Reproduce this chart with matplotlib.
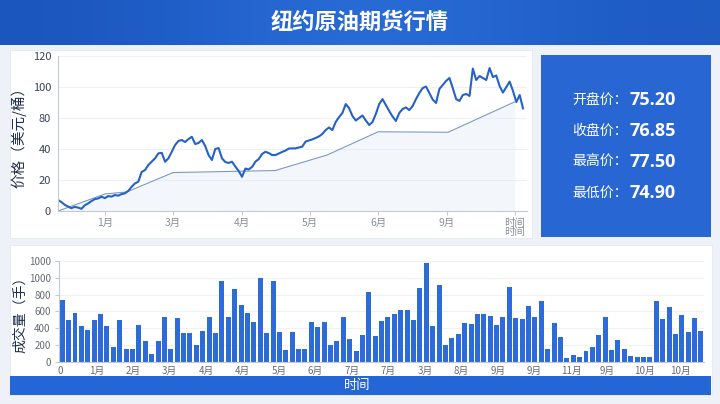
import numpy as np
import matplotlib
matplotlib.use('Agg')
import matplotlib.pyplot as plt
from matplotlib.patches import Rectangle
from matplotlib.colors import LinearSegmentedColormap

plt.rcParams['font.family'] = ['Noto Sans CJK SC', 'DejaVu Sans']

# price series (daily)
price = [7.1, 5.8, 4.0, 2.9, 1.8, 2.7, 2.2, 1.4, 3.7, 4.9,
         6.4, 7.7, 8.1, 9.2, 8.3, 9.6, 9.3, 10.3, 9.9, 10.9,
         11.4, 13.0, 15.6, 17.8, 18.9, 25.2, 26.4, 29.7, 31.8, 34.0,
         37.2, 37.5, 31.8, 34.0, 38.2, 42.6, 45.2, 45.8, 44.5, 46.4,
         47.9, 43.2, 43.9, 45.8, 41.9, 36.1, 32.9, 40.0, 40.6, 34.0,
         31.6, 31.0, 31.8, 28.7, 25.8, 22.1, 27.4, 26.8, 28.4, 31.8,
         33.5, 36.8, 38.2, 37.4, 36.1, 36.1, 37.1, 38.1, 39.0, 40.3,
         40.4, 40.4, 41.0, 41.5, 44.8, 45.5, 46.2, 47.1, 48.1, 49.7,
         52.2, 53.9, 52.2, 57.4, 60.6, 63.2, 69.0, 66.4, 61.3, 58.4,
         60.0, 61.6, 58.4, 55.5, 57.4, 62.6, 69.0, 72.2, 68.4, 64.5,
         61.0, 58.1, 63.2, 65.8, 66.8, 65.1, 67.7, 72.2, 76.1, 79.3,
         80.3, 76.1, 71.9, 69.7, 78.7, 81.3, 83.9, 85.8, 79.3, 72.2,
         71.0, 74.8, 75.5, 74.2, 91.9, 84.5, 87.1, 85.8, 84.5, 92.2,
         86.4, 87.4, 80.6, 76.4, 80.0, 83.5, 77.4, 70.3, 74.8, 66.2]

# thin trend line
trend_x = [0, 14.05, 20.6, 34.4, 64.9, 80.4, 95.7, 116.6, 136.6]
trend_y = [0, 11.0, 12.3, 24.8, 26.1, 36.1, 51.1, 50.8, 70.5]

price_tick_pos = [14.05, 34.4, 55.0, 75.3, 95.7, 116.3, 136.6]
price_tick_labels = ['1月', '3月', '4月', '5月', '6月', '9月', '时间']
price_ytick_labels = ['0', '20', '40', '80', '100', '120']

# volume bars
volume = [740, 500, 580, 425, 380, 495, 570, 430, 180, 495,
          150, 160, 435, 250, 90, 245, 530, 160, 525, 345,
          345, 200, 370, 540, 340, 960, 535, 870, 680, 585,
          480, 995, 345, 965, 355, 145, 355, 160, 160, 470,
          415, 470, 200, 250, 540, 275, 130, 325, 835, 305,
          490, 540, 575, 620, 620, 500, 875, 1180, 425, 915,
          200, 290, 335, 465, 455, 575, 575, 545, 445, 530,
          895, 525, 515, 665, 540, 725, 150, 460, 295, 50,
          80, 55, 135, 175, 315, 535, 140, 265, 155, 70,
          55, 65, 60, 720, 515, 655, 335, 560, 355, 520, 370]
vol_tick_labels = ['0', '1月', '2月', '3月', '4月', '4月', '5月', '6月', '7月',
                   '7月', '3月', '8月', '9月', '9月', '11月', '9月', '10月', '10月']
vol_ytick_labels = ['0', '200', '400', '600', '800', '1000', '1000']

stat_names = ['开盘价：', '收盘价：', '最高价：', '最低价：']
stat_values = ['75.20', '76.85', '77.50', '74.90']

fig = plt.figure(figsize=(7.2, 4.04), dpi=100)
fig.patch.set_facecolor('#eef2f8')

# background layer in pixel coords
bg = fig.add_axes([0, 0, 1, 1], zorder=-10)
bg.axis('off')

grad = np.array([[0.0, 0.5, 1.0, 0.6, 0.2]])
cm = LinearSegmentedColormap.from_list('t', ['#1b56be', '#2a6ed9'])
bg.imshow(grad, cmap=cm, extent=(0, 720, 45, 0), aspect='auto', interpolation='bicubic')
bg.text(360, 22, '纽约原油期货行情', color='white', fontsize=16, fontweight='bold',
        ha='center', va='center')

bg.add_patch(Rectangle((10, 50), 522, 188, facecolor='white', edgecolor='#e3e8f0', lw=0.6))
bg.add_patch(Rectangle((541, 55), 170, 182, facecolor='#2766d3', edgecolor='none'))
bg.add_patch(Rectangle((10, 245), 702, 150, facecolor='white', edgecolor='#e3e8f0', lw=0.6))
bg.add_patch(Rectangle((10, 376), 701, 19, facecolor='#2466d6', edgecolor='none'))
bg.text(357, 386, '时间', color='white', fontsize=9.5, ha='center', va='center')

for k, (nm, val) in enumerate(zip(stat_names, stat_values)):
    yy = 100 + k * 31
    bg.text(628, yy, nm, color='white', fontsize=10, ha='right', va='center')
    bg.text(629, yy, val, color='white', fontsize=13, fontweight='bold',
            ha='left', va='center', family=['Open Sans', 'DejaVu Sans'])
bg.set_xlim(0, 720)
bg.set_ylim(404, 0)

# price chart
ax1 = fig.add_axes([0.0806, 0.4777, 0.6514, 0.3837])
ax1.set_facecolor('none')
xs = np.arange(len(price))
ax1.fill_between(trend_x, trend_y, 0, color='#dfe8f6', alpha=0.35, lw=0)
ax1.plot(trend_x, trend_y, color='#7d98c6', lw=0.8)
ax1.plot(xs, price, color='#2562c8', lw=1.5)
ax1.set_xlim(0, 140.2)
ax1.set_ylim(0, 100)
ax1.set_yticks([0, 20, 40, 60, 80, 100])
ax1.set_yticklabels(price_ytick_labels)
ax1.set_xticks(price_tick_pos)
ax1.set_xticklabels(price_tick_labels)
ax1.tick_params(axis='y', length=0, labelsize=8, labelcolor='#3a4256', pad=5)
ax1.tick_params(axis='x', length=3, color='#c4c9d2', labelsize=7.5, labelcolor='#8a8f99', pad=2)
ax1.grid(axis='y', color='#edf0f5', lw=0.8)
ax1.set_axisbelow(True)
for s in ['top', 'right']:
    ax1.spines[s].set_visible(False)
for s in ['left', 'bottom']:
    ax1.spines[s].set_color('#c4c9d2')
    ax1.spines[s].set_linewidth(0.8)
ax1.set_ylabel('价格（美元/桶）', fontsize=10.5, color='#1f2d4d')
ax1.yaxis.set_label_coords(-0.068, 0.5)
ax1.text(136.6, -0.135, '时间', transform=ax1.get_xaxis_transform(), fontsize=7.5,
         color='#8a8f99', ha='center', va='center')

# volume chart
ax2 = fig.add_axes([0.082, 0.104, 0.896, 0.250])
ax2.set_facecolor('none')
ax2.bar(np.arange(len(volume)), volume, width=0.78, color='#2d6bd8')
ax2.set_xlim(-0.5, len(volume) - 0.5)
ax2.set_ylim(0, 1200)
ax2.set_yticks(np.arange(0, 1201, 200))
ax2.set_yticklabels(vol_ytick_labels)
ax2.set_xticks(np.linspace(-0.34, 96.8, len(vol_tick_labels)))
ax2.set_xticklabels(vol_tick_labels)
ax2.tick_params(axis='y', length=3, color='#c4c9d2', labelsize=7, labelcolor='#666b75', pad=3)
ax2.tick_params(axis='x', length=0, labelsize=7, labelcolor='#666b75', pad=3)
ax2.grid(axis='y', color='#eef1f6', lw=0.8)
ax2.set_axisbelow(True)
for s in ['top', 'right']:
    ax2.spines[s].set_visible(False)
for s in ['left', 'bottom']:
    ax2.spines[s].set_color('#c4c9d2')
    ax2.spines[s].set_linewidth(0.8)
ax2.set_ylabel('成交量（手）', fontsize=10, color='#1f2d4d')
ax2.yaxis.set_label_coords(-0.05, 0.5)

fig.savefig('out.png', dpi=100, facecolor=fig.get_facecolor())
